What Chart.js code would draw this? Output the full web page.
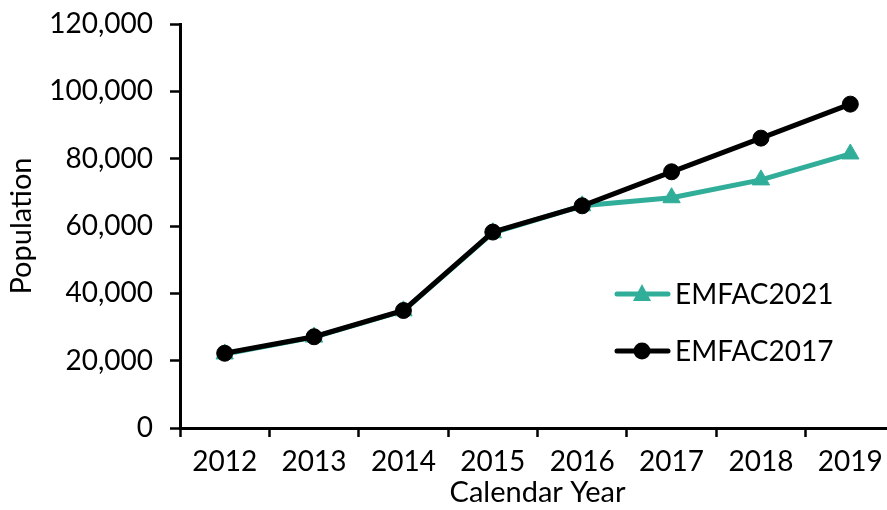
<!DOCTYPE html>
<html lang="en">
<head>
    <meta charset="UTF-8">
    <title>Population by Calendar Year</title>
    <style>
        html, body {
            margin: 0;
            padding: 0;
            background: #fff;
            overflow: hidden;
        }
        .chart-box {
            width: 906px;
            height: 510px;
        }
    </style>
    <script src="https://cdn.jsdelivr.net/npm/chart.js"></script>
</head>
<body>
    <div class="chart-box">
        <canvas id="popChart" width="906" height="510"></canvas>
    </div>

    <script>
        const years = ['2012', '2013', '2014', '2015', '2016', '2017', '2018', '2019'];
        const emfac2021 = [22000, 27000, 34800, 58000, 66000, 68400, 73700, 81400];
        const emfac2017 = [22200, 27100, 34900, 58200, 66000, 76100, 86100, 96200];
        const yTicks = [0, 20000, 40000, 60000, 80000, 100000, 120000];

        const teal = '#31AE99';
        const fontFamily = "'Lato', 'Open Sans', sans-serif";

        // legend drawn inside the plot, line + marker like the original
        const insideLegend = {
            id: 'insideLegend',
            afterDraw(chart) {
                const ctx = chart.ctx;
                const items = [
                    { label: 'EMFAC2021', color: teal, style: 'triangle', y: 294 },
                    { label: 'EMFAC2017', color: '#000', style: 'circle', y: 351 }
                ];
                ctx.save();
                items.forEach(item => {
                    ctx.strokeStyle = item.color;
                    ctx.lineWidth = 5;
                    ctx.lineCap = 'round';
                    ctx.beginPath();
                    ctx.moveTo(617, item.y);
                    ctx.lineTo(668, item.y);
                    ctx.stroke();
                    ctx.fillStyle = item.color;
                    ctx.beginPath();
                    if (item.style === 'circle') {
                        ctx.arc(642, item.y, 8.5, 0, Math.PI * 2);
                    } else {
                        ctx.moveTo(642, item.y - 10);
                        ctx.lineTo(651, item.y + 7);
                        ctx.lineTo(633, item.y + 7);
                        ctx.closePath();
                    }
                    ctx.fill();
                    ctx.fillStyle = '#000';
                    ctx.font = '28px ' + fontFamily;
                    ctx.textBaseline = 'middle';
                    ctx.textAlign = 'left';
                    ctx.fillText(item.label, 675, item.y + 1);
                });
                ctx.restore();
            }
        };

        function renderChart() {
            const ctx = document.getElementById('popChart').getContext('2d');
            new Chart(ctx, {
                type: 'line',
                data: {
                    labels: years,
                    datasets: [
                        {
                            label: 'EMFAC2017',
                            data: emfac2017,
                            borderColor: '#000',
                            backgroundColor: '#000',
                            borderWidth: 5,
                            pointStyle: 'circle',
                            pointRadius: 8,
                            pointBorderWidth: 1,
                            tension: 0
                        },
                        {
                            label: 'EMFAC2021',
                            data: emfac2021,
                            borderColor: teal,
                            backgroundColor: teal,
                            borderWidth: 5,
                            pointStyle: 'triangle',
                            pointRadius: 10,
                            pointBorderWidth: 1,
                            tension: 0
                        }
                    ]
                },
                options: {
                    responsive: false,
                    animation: false,
                    events: [],
                    layout: {
                        padding: { top: 24, right: 3, left: 0, bottom: 0 }
                    },
                    plugins: {
                        legend: { display: false },
                        tooltip: { enabled: false }
                    },
                    scales: {
                        x: {
                            offset: true,
                            grid: {
                                offset: true,
                                drawOnChartArea: false,
                                drawTicks: true,
                                tickLength: 9,
                                tickWidth: 2.5,
                                tickColor: '#000'
                            },
                            border: { color: '#000', width: 3 },
                            ticks: {
                                color: '#000',
                                font: { family: fontFamily, size: 28 },
                                padding: 8,
                                maxRotation: 0
                            },
                            title: {
                                display: true,
                                text: 'Calendar Year',
                                color: '#000',
                                font: { family: fontFamily, size: 29 },
                                padding: { top: -5, bottom: 0 }
                            },
                            afterFit: scale => {
                                scale.height = 82;
                                scale.paddingLeft = 0;
                                scale.paddingRight = 0;
                            }
                        },
                        y: {
                            min: 0,
                            max: 120000,
                            afterBuildTicks: scale => {
                                scale.ticks = yTicks.map(v => ({ value: v }));
                            },
                            grid: {
                                drawOnChartArea: false,
                                tickLength: 10,
                                tickWidth: 2.5,
                                tickColor: '#000'
                            },
                            border: { color: '#000', width: 3 },
                            ticks: {
                                color: '#000',
                                font: { family: fontFamily, size: 28 },
                                padding: 17,
                                callback: v => v.toLocaleString('en-US')
                            },
                            title: {
                                display: true,
                                text: 'Population',
                                color: '#000',
                                font: { family: fontFamily, size: 29 },
                                padding: { top: 4, bottom: 0 }
                            },
                            afterFit: scale => {
                                scale.width = 180;
                                scale.paddingTop = 0;
                                scale.paddingBottom = 0;
                            }
                        }
                    }
                },
                plugins: [insideLegend]
            });
        }

        document.addEventListener('DOMContentLoaded', renderChart);
    </script>
</body>
</html>
